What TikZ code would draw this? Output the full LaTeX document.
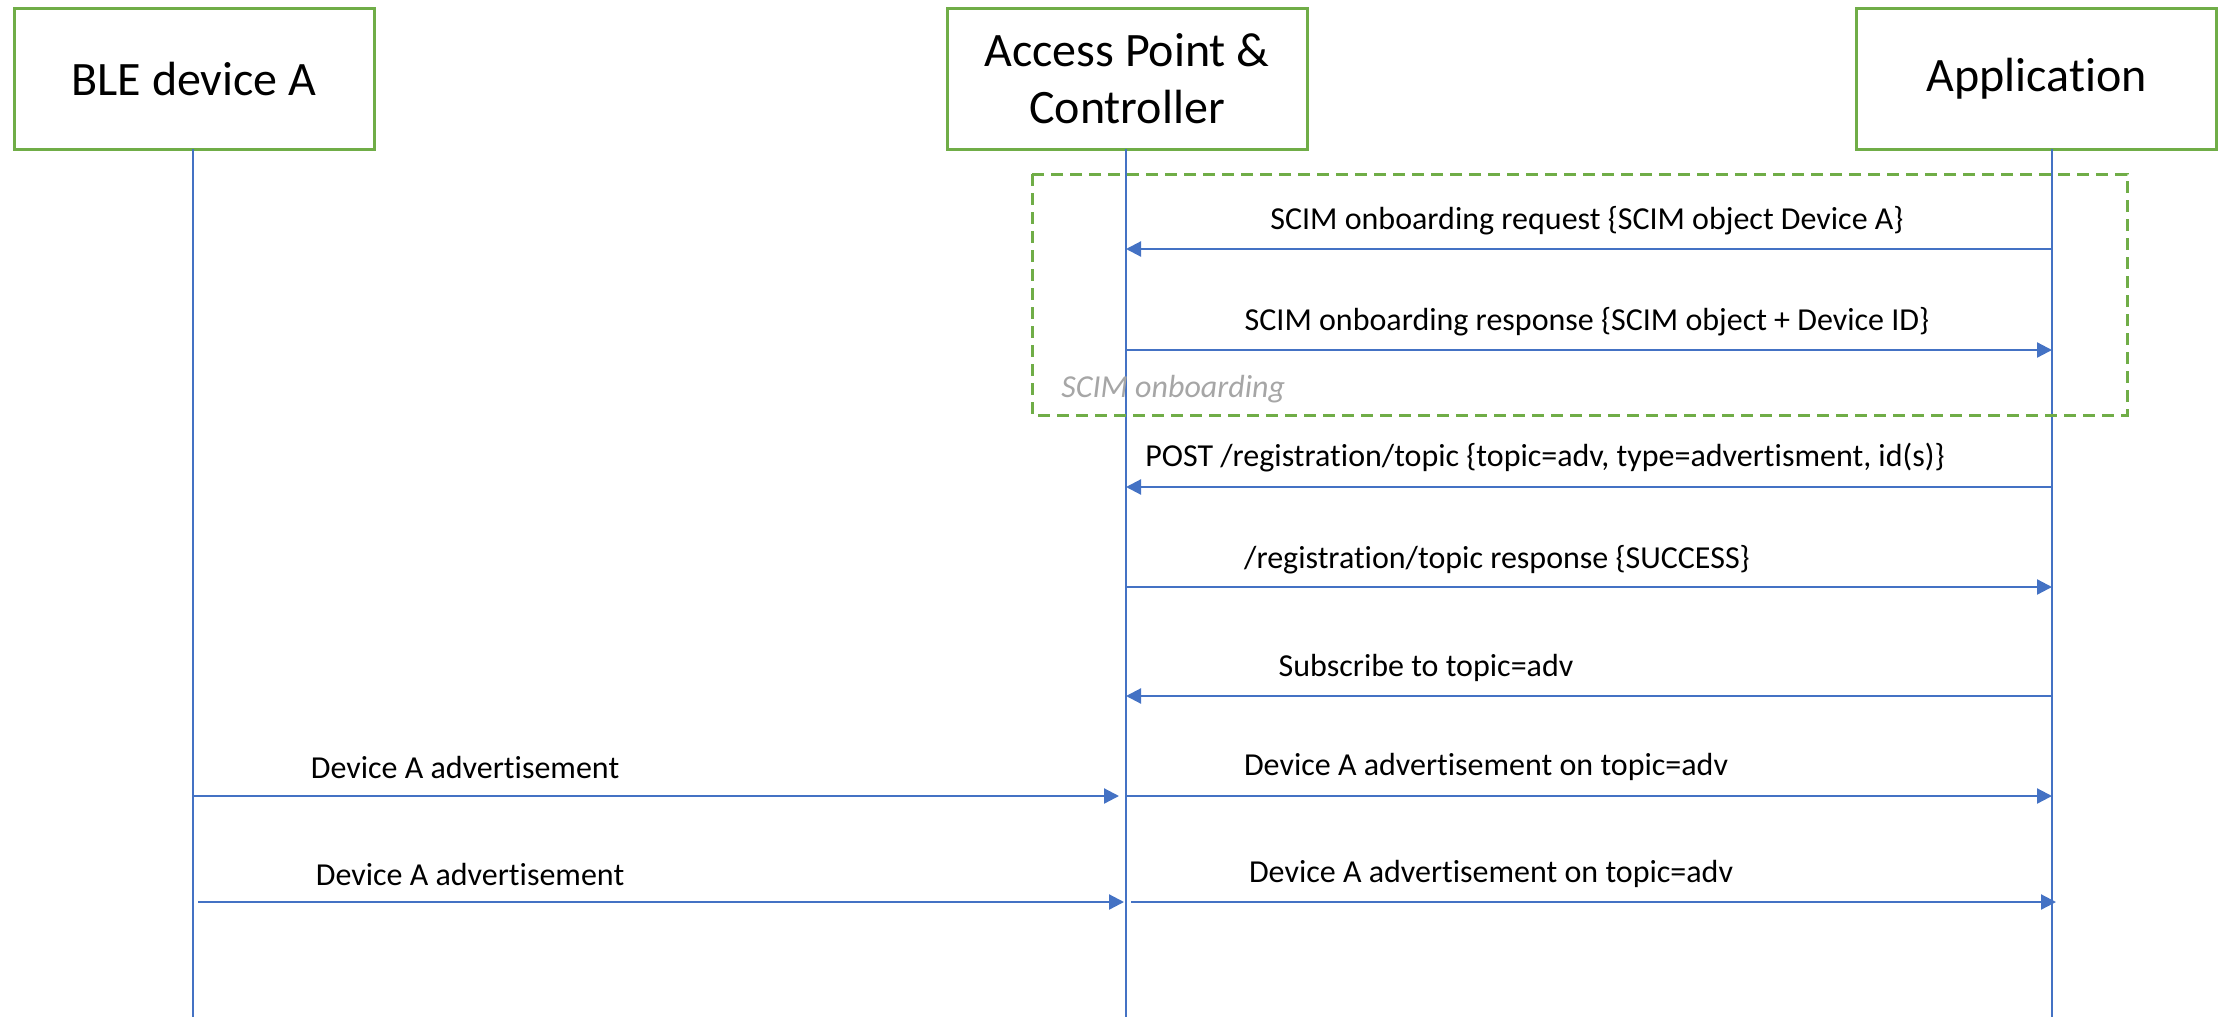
\documentclass[tikz,border=0pt]{standalone}
\usepackage{fontspec}
\setmainfont{Carlito}[Ligatures=NoCommon]
\usetikzlibrary{arrows.meta}
\definecolor{boxgreen}{HTML}{70AD47}
\definecolor{lineblue}{HTML}{4472C4}
\definecolor{notegray}{HTML}{A6A6A6}

\begin{document}
\begin{tikzpicture}[x=0.5pt,y=-0.5pt,
  actor/.style={draw=boxgreen, line width=1.5pt, minimum width=180pt,
    minimum height=70.5pt, inner sep=0pt, align=center,
    font=\fontsize{24}{28.5}\selectfont},
  lifeline/.style={draw=lineblue, line width=0.75pt},
  msg/.style={draw=lineblue, line width=1.1pt,
    -{Triangle[length=7.5pt,width=7.5pt]}},
  msglabel/.style={inner sep=0pt, font=\fontsize{16}{19}\selectfont},
  groupbox/.style={draw=boxgreen, line width=1.5pt, dash pattern=on 6pt off 3.5pt},
  grouplabel/.style={inner sep=0pt, text=notegray,
    font=\fontsize{16}{19}\selectfont\itshape},
]
\useasboundingbox (0,0) rectangle (2221,1017);

% participants
\node[actor] (ble) at (194,78.5) {BLE device A};
\node[actor] (ap)  at (1127,78.5) {Access Point \&\\Controller};
\node[actor] (app) at (2036.5,78.5) {Application};

% lifelines
\coordinate (bleTop) at (193,149);
\coordinate (apTop)  at (1126,149);
\coordinate (appTop) at (2052,149);
\coordinate (bleEnd) at (193,1017);
\coordinate (apEnd)  at (1126,1017);
\coordinate (appEnd) at (2052,1017);
\draw[lifeline] (bleTop) -- (bleEnd);
\draw[lifeline] (apTop) -- (apEnd);
\draw[lifeline] (appTop) -- (appEnd);

% onboarding group
\draw[groupbox] (1032,174) rectangle (2127,415);
\node[grouplabel, anchor=west] (grp) at (1061,389) {SCIM onboarding};

% message end points
\coordinate (m1a) at (2052,249); \coordinate (m1b) at (1126,249);
\coordinate (m2a) at (1126,350); \coordinate (m2b) at (2052,350);
\coordinate (m3a) at (2052,487); \coordinate (m3b) at (1126,487);
\coordinate (m4a) at (1126,587); \coordinate (m4b) at (2052,587);
\coordinate (m5a) at (2052,696); \coordinate (m5b) at (1126,696);
\coordinate (m6a) at (193,796);  \coordinate (m6b) at (1119,796);
\coordinate (m6c) at (1126,796); \coordinate (m6d) at (2052,796);
\coordinate (m7a) at (198,902);  \coordinate (m7b) at (1124,902);
\coordinate (m7c) at (1131,902); \coordinate (m7d) at (2056,902);

% messages
\draw[msg] (m1a) -- (m1b);
\draw[msg] (m2a) -- (m2b);
\draw[msg] (m3a) -- (m3b);
\draw[msg] (m4a) -- (m4b);
\draw[msg] (m5a) -- (m5b);
\draw[msg] (m6a) -- (m6b);
\draw[msg] (m6c) -- (m6d);
\draw[msg] (m7a) -- (m7b);
\draw[msg] (m7c) -- (m7d);

% message labels
\node[msglabel] (l1) at (1587,221) {SCIM onboarding request \{SCIM object Device A\}};
\node[msglabel] (l2) at (1587,322) {SCIM onboarding response \{SCIM object + Device ID\}};
\node[msglabel] (l3) at (1545,458) {POST /registration/topic \{topic=adv, type=advertisment, id(s)\}};
\node[msglabel] (l4) at (1497,560) {/registration/topic response \{SUCCESS\}};
\node[msglabel] (l5) at (1426,668) {Subscribe to topic=adv};
\node[msglabel] (l6a) at (465,767) {Device A advertisement};
\node[msglabel] (l6b) at (1486,767) {Device A advertisement on topic=adv};
\node[msglabel] (l7a) at (470,874) {Device A advertisement};
\node[msglabel] (l7b) at (1491,874) {Device A advertisement on topic=adv};
\end{tikzpicture}
\end{document}
